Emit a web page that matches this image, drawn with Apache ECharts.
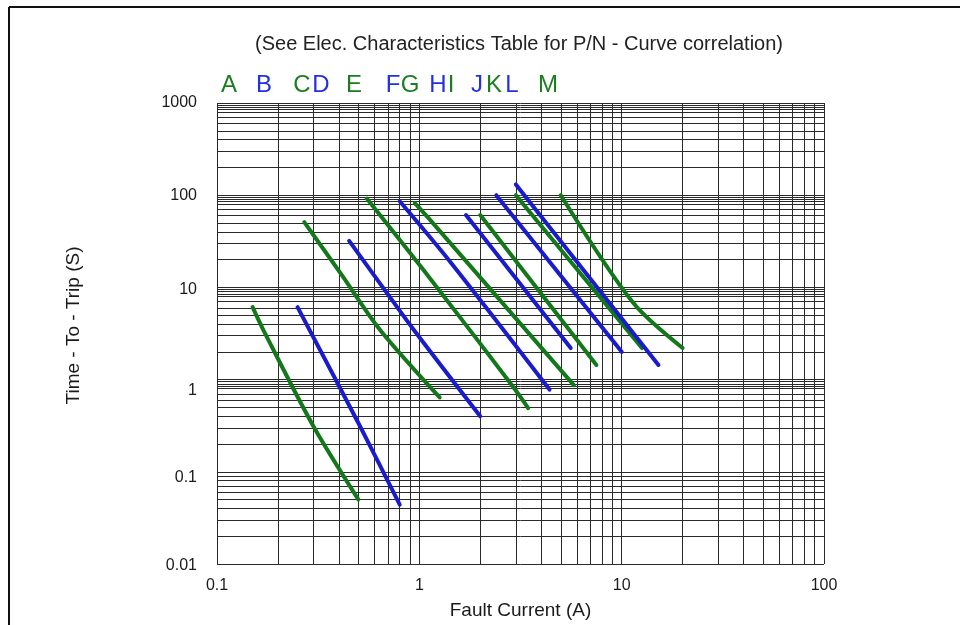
<!DOCTYPE html>
<html>
<head>
<meta charset="utf-8">
<script src="https://cdn.jsdelivr.net/npm/echarts@6/dist/echarts.min.js"></script>
<style>
html,body{margin:0;padding:0;background:#fff;}
#c{width:960px;height:625px;}
</style>
</head>
<body>
<div id="c"></div>
<script>
// ---- data (Fault Current [A], Time-To-Trip [s]) ----
const curveNames = ['A','B','C','D','E','F','G','H','I','J','K','L','M'];
const curveA = [[0.15,6.1],[0.17,3.4],[0.30,0.31],[0.50,0.05]];
const curveB = [[0.25,6.1],[0.51,0.31],[0.80,0.044]];
const curveC = [[0.27,51],[0.41,14],[0.64,3.45],[1.26,0.64]];
const curveD = [[0.45,32],[0.64,11],[0.94,3.45],[2.0,0.40]];
const curveE = [[0.55,92],[1.13,12.5],[2.9,0.84],[3.45,0.49]];
const curveF = [[0.80,86],[1.42,19],[4.4,0.78]];
const curveG = [[0.95,82],[1.13,54],[5.8,0.87]];
const curveH = [[1.7,61],[5.6,2.2]];
const curveI = [[2.0,61],[7.5,1.44]];
const curveJ = [[2.4,100],[10,2.0]];
const curveK = [[3.0,100],[12.6,2.2]];
const curveL = [[3.0,131],[15.2,1.44]];
const curveM = [[5.0,100],[11.4,6.8],[20,2.2]];
const curves = [curveA,curveB,curveC,curveD,curveE,curveF,curveG,curveH,curveI,curveJ,curveK,curveL,curveM];

// tick labels
const xTickLabels = [0.1, 1, 10, 100];
const yTickLabels = [0.01, 0.1, 1, 10, 100, 1000];

// grid lines (mantissa x decade)
const xGridMantissas = [1,2,3,4,5,6,7,8,9];
const xGridDecades = [0.1, 1, 10];
const yGridMantissas = [1,2,3,4,5,6,7,8,8.5,9,9.5];
const yGridDecades = [0.01, 0.1, 1, 10, 100];

// ---- styles ----
const GREEN = '#13781a';
const BLUE = '#1a1ccc';
const LETTER_GREEN = '#1b7d1f';
const LETTER_BLUE = '#2230e0';
const FONT = '"Liberation Sans", Arial, Helvetica, sans-serif';
const letterX = [229,264,302,321,354,393,410,438,451,477,494,512,548];

const xGridVals = [];
xGridDecades.forEach(d => xGridMantissas.forEach(m => xGridVals.push(+(m*d).toPrecision(6))));
xGridVals.push(100);
const yGridVals = [];
yGridDecades.forEach(d => yGridMantissas.forEach(m => yGridVals.push(+(m*d).toPrecision(6))));
yGridVals.push(1000);

const labelShift = {'1000':0,'100':0,'10':4,'1':22,'0.1':12,'0.01':4};
const yRich = {};
Object.keys(labelShift).forEach((k,i) => {
  yRich['s'+i] = {padding:[labelShift[k],0,0,0], fontSize:16, color:'#1a1a1a', fontFamily:FONT};
});

const chart = echarts.init(document.getElementById('c'), null, {renderer:'canvas'});

const series = curves.map((d,i) => ({
  name: curveNames[i],
  type: 'line',
  data: d,
  showSymbol: false,
  smooth: 0.3,
  silent: true,
  z: 5,
  lineStyle: {width: 4, color: i % 2 === 0 ? GREEN : BLUE, cap: 'round', join: 'round'}
}));

series.push({
  type: 'line',
  data: [],
  silent: true,
  z: 1,
  markLine: {
    silent: true,
    symbol: ['none','none'],
    animation: false,
    label: {show: false},
    lineStyle: {color: '#2a2a2a', width: 1, type: 'solid'},
    emphasis: {disabled: true},
    data: xGridVals.map(v => ({xAxis: v})).concat(yGridVals.map(v => ({yAxis: v})))
  }
});

chart.setOption({
  animation: false,
  backgroundColor: '#fff',
  grid: {left: 217, right: 136, top: 103, bottom: 61},
  xAxis: {
    type: 'log',
    logBase: 10,
    min: 0.1,
    max: 100,
    name: 'Fault Current (A)',
    nameLocation: 'middle',
    nameGap: 37,
    nameTextStyle: {fontSize: 19, color: '#1a1a1a', fontFamily: FONT},
    axisLine: {show: false},
    axisTick: {show: false},
    splitLine: {show: false},
    axisLabel: {
      fontSize: 16, color: '#1a1a1a', fontFamily: FONT, margin: 14,
      formatter: v => xTickLabels.indexOf(+(+v).toPrecision(6)) >= 0 ? String(+(+v).toPrecision(6)) : ''
    }
  },
  yAxis: {
    type: 'log',
    logBase: 10,
    min: 0.01,
    max: 1000,
    name: 'Time - To - Trip (S)',
    nameLocation: 'middle',
    nameGap: 134,
    nameRotate: 90,
    nameTextStyle: {fontSize: 19, color: '#1a1a1a', fontFamily: FONT, padding:[0,0,0,16]},
    axisLine: {show: false},
    axisTick: {show: false},
    splitLine: {show: false},
    axisLabel: {
      margin: 20,
      formatter: v => {
        const key = String(+(+v).toPrecision(6));
        const idx = yTickLabels.map(String).indexOf(key);
        if (idx < 0) return '';
        const ri = Object.keys(labelShift).indexOf(key);
        return '{s' + ri + '|' + key + '}';
      },
      rich: yRich
    }
  },
  graphic: [
    {type: 'line', shape: {x1: 9, y1: 7, x2: 960, y2: 7}, style: {stroke: '#111', lineWidth: 2}, silent: true},
    {type: 'line', shape: {x1: 9, y1: 7, x2: 9, y2: 625}, style: {stroke: '#111', lineWidth: 2}, silent: true},
    {type: 'text', x: 519, y: 44, silent: true,
     style: {text: '(See Elec. Characteristics Table for P/N - Curve correlation)', fill: '#222',
             font: '20px ' + FONT, textAlign: 'center', textVerticalAlign: 'middle'}}
  ].concat(curveNames.map((n,i) => ({
    type: 'text', x: letterX[i], y: 85, silent: true,
    style: {text: n, fill: i % 2 === 0 ? LETTER_GREEN : LETTER_BLUE,
            font: '24px ' + FONT, textAlign: 'center', textVerticalAlign: 'middle'}
  }))),
  series: series
});
</script>
</body>
</html>
